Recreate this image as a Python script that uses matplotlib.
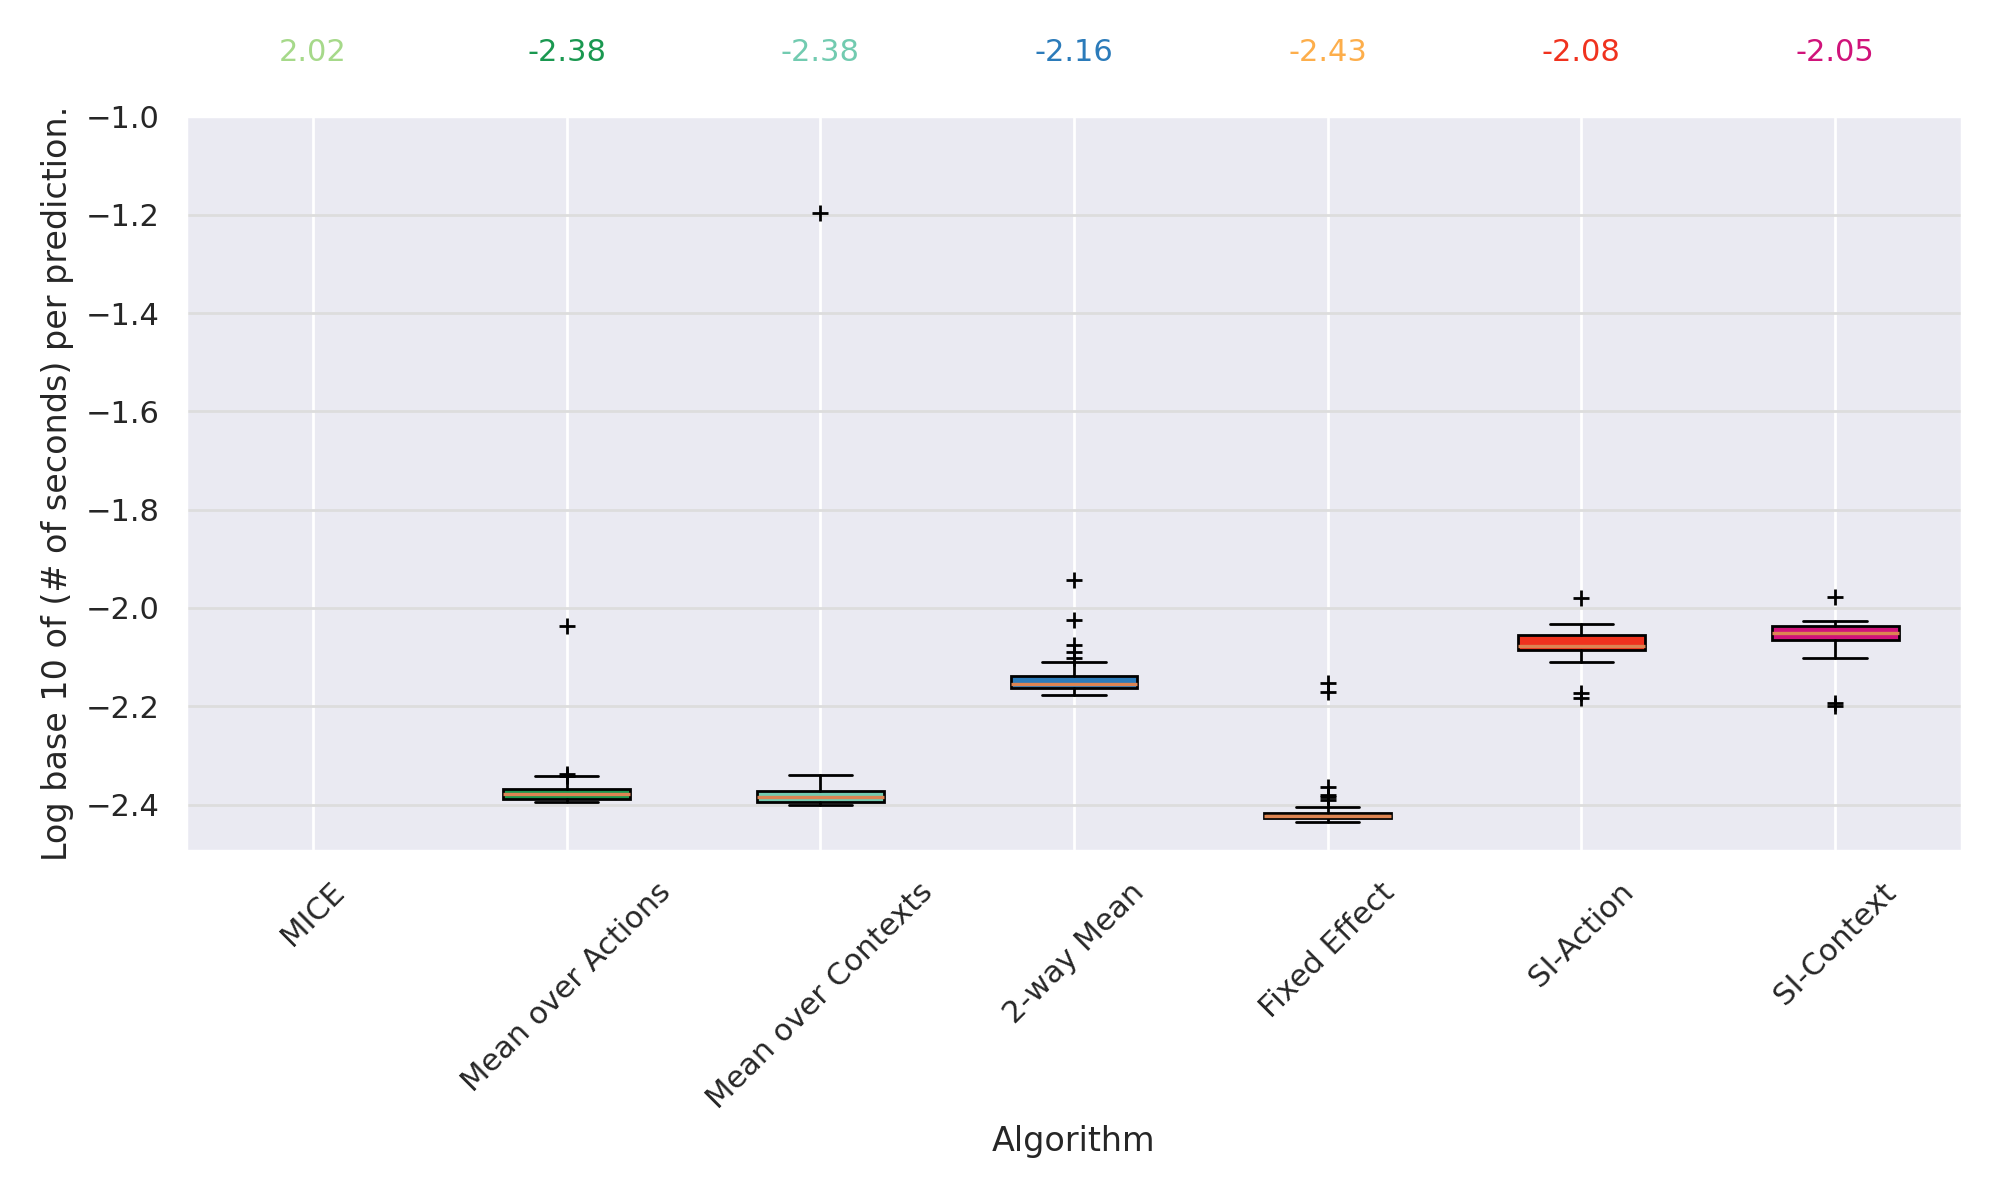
import matplotlib
matplotlib.use("Agg")
import matplotlib.pyplot as plt
import seaborn as sns

sns.set_theme(style="darkgrid")

# ---- data ----
algorithms = ["MICE", "Mean over Actions", "Mean over Contexts", "2-way Mean",
              "Fixed Effect", "SI-Action", "SI-Context"]
means = ["2.02", "-2.38", "-2.38", "-2.16", "-2.43", "-2.08", "-2.05"]
colors = ["#a6d98a", "#1a9850", "#72cbb0", "#2b7bba", "#fdae4b", "#f0321e", "#d0137a"]

# MICE box lies above the visible range
q1 = [2.00, -2.388, -2.395, -2.163, -2.428, -2.086, -2.065]
med = [2.02, -2.378, -2.385, -2.155, -2.424, -2.078, -2.050]
q3 = [2.04, -2.368, -2.372, -2.138, -2.418, -2.055, -2.037]
whislo = [1.98, -2.395, -2.400, -2.178, -2.435, -2.110, -2.102]
whishi = [2.06, -2.342, -2.340, -2.110, -2.405, -2.033, -2.027]
fliers = [
    [],
    [-2.037, -2.338, -2.341],
    [-1.197],
    [-1.943, -2.025, -2.075, -2.090, -2.102],
    [-2.152, -2.170, -2.365, -2.380, -2.385, -2.390],
    [-1.980, -2.173, -2.183],
    [-1.978, -2.193, -2.200],
]

stats = []
for i in range(len(algorithms)):
    stats.append(dict(q1=q1[i], med=med[i], q3=q3[i], whislo=whislo[i],
                      whishi=whishi[i], fliers=fliers[i], label=algorithms[i]))

fig = plt.figure(figsize=(10, 6), dpi=200)
ax = fig.add_axes([0.093, 0.291, 0.888, 0.612])
bp = ax.bxp(stats, patch_artist=True, widths=0.5,
            flierprops=dict(marker="+", markeredgecolor="black", markersize=6),
            medianprops=dict(color="#dd8452", linewidth=1.2),
            whiskerprops=dict(color="black"), capprops=dict(color="black"))
for patch, c in zip(bp["boxes"], colors):
    patch.set_facecolor(c)
    patch.set_edgecolor("black")

ax.set_ylim(-2.494, -1.0)
ax.set_xlim(0.5, 7.5)
ax.grid(axis="y", color="#dddddd")
ax.set_xticks(range(1, len(algorithms) + 1))
ax.set_xticklabels(algorithms, rotation=45)
ax.set_xlabel("Algorithm")
ax.set_ylabel("Log base 10 of (# of seconds) per prediction.")

for i, (m, c) in enumerate(zip(means, colors)):
    ax.text(i + 1, -0.87, m, color=c, ha="center", va="center", fontsize=11)

fig.savefig("out.png", dpi=200)
